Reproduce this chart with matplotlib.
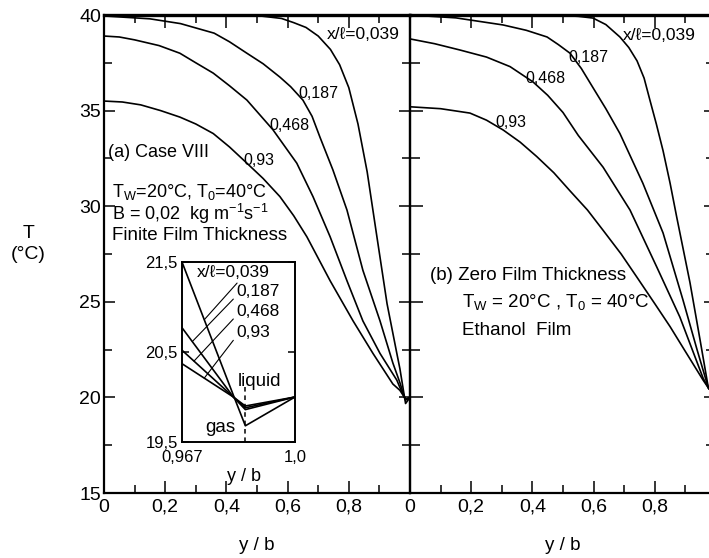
import numpy as np
import matplotlib.pyplot as plt
from matplotlib.ticker import MultipleLocator

plt.rcParams['font.family'] = ['Liberation Sans', 'DejaVu Sans']

# ---- (a) Case VIII, finite film thickness: y/b and T for each x/l ----
a_y_039 = [0, 0.3, 0.5, 0.58, 0.62, 0.66, 0.70, 0.74, 0.77, 0.80, 0.83, 0.86, 0.89, 0.925, 0.957,
           0.967, 0.982, 0.9855, 1.0]
a_T_039 = [40, 40, 39.97, 39.82, 39.6, 39.35, 38.9, 38.2, 37.4, 36.2, 34.3, 31.8, 28.6, 24.9, 22.3,
           21.5, 20.02, 19.68, 20.0]
a_y_187 = [0, 0.15, 0.25, 0.36, 0.41, 0.467, 0.52, 0.575, 0.61, 0.65, 0.68, 0.706, 0.748, 0.794,
           0.846, 0.902, 0.944, 0.967, 0.982, 0.9855, 1.0]
a_T_187 = [39.95, 39.8, 39.55, 39.05, 38.6, 38.0, 37.45, 36.75, 36.25, 35.55, 34.7, 33.6, 31.9, 29.8,
           26.65, 24.0, 21.8, 20.77, 20.0, 19.86, 20.0]
a_y_468 = [0, 0.05, 0.1, 0.18, 0.248, 0.3, 0.357, 0.41, 0.467, 0.552, 0.63, 0.683, 0.739, 0.794,
           0.846, 0.902, 0.957, 0.967, 0.982, 0.9855, 1.0]
a_T_468 = [38.9, 38.85, 38.7, 38.4, 38.0, 37.5, 36.96, 36.3, 35.55, 34.0, 32.25, 30.5, 28.4, 26.1,
           24.0, 22.3, 20.9, 20.52, 20.0, 19.88, 20.0]
a_y_93 = [0, 0.06, 0.12, 0.185, 0.248, 0.3, 0.357, 0.41, 0.467, 0.52, 0.575, 0.62, 0.663, 0.739,
          0.814, 0.879, 0.944, 0.967, 0.982, 0.9855, 1.0]
a_T_93 = [35.5, 35.45, 35.3, 35.0, 34.66, 34.3, 33.8, 33.1, 32.25, 31.45, 30.5, 29.5, 28.4, 26.1,
          24.0, 22.3, 20.7, 20.37, 20.0, 19.9, 20.0]

# ---- (b) zero film thickness ----
b_y_039 = [0, 0.3, 0.5, 0.55, 0.598, 0.64, 0.686, 0.715, 0.742, 0.765, 0.784, 0.805, 0.827, 0.85,
           0.872, 0.915, 0.948, 0.975, 1.0]
b_T_039 = [40, 40, 39.97, 39.93, 39.84, 39.5, 38.85, 38.3, 37.6, 36.7, 35.55, 34.3, 32.9, 31.2,
           29.4, 26.0, 23.0, 20.5, 20.0]
b_y_187 = [0, 0.15, 0.304, 0.38, 0.448, 0.485, 0.523, 0.56, 0.598, 0.64, 0.686, 0.761, 0.827, 0.892,
           0.938, 0.975, 1.0]
b_T_187 = [40, 39.85, 39.48, 39.2, 38.85, 38.45, 38.0, 37.2, 36.2, 35.1, 33.8, 31.2, 28.6, 25.1,
           22.5, 20.5, 20.0]
b_y_468 = [0, 0.08, 0.163, 0.25, 0.327, 0.402, 0.45, 0.5, 0.55, 0.631, 0.719, 0.807, 0.882, 0.958,
           0.975, 1.0]
b_T_468 = [38.75, 38.5, 38.17, 37.8, 37.3, 36.5, 35.8, 34.9, 33.7, 32.04, 29.8, 26.8, 24.2, 21.0,
           20.5, 20.0]
b_y_93 = [0, 0.1, 0.196, 0.25, 0.305, 0.36, 0.414, 0.47, 0.523, 0.58, 0.631, 0.69, 0.741, 0.8, 0.85,
          0.9, 0.958, 0.975, 1.0]
b_T_93 = [35.2, 35.1, 34.87, 34.5, 33.98, 33.35, 32.6, 31.75, 30.8, 29.8, 28.74, 27.5, 26.3, 24.9,
          23.7, 22.4, 20.9, 20.5, 20.0]

curve_labels = ['0,039', '0,187', '0,468', '0,93']
x_ticks = [0, 0.2, 0.4, 0.6, 0.8]
x_ticklabels = ['0', '0,2', '0,4', '0,6', '0,8']
interface_y = 0.9855

fig = plt.figure(figsize=(7.09, 5.58), dpi=100)
W, H = 709, 558
axa = fig.add_axes([104 / W, 65 / H, 306 / W, 478 / H])
axb = fig.add_axes([410 / W, 65 / H, 306 / W, 478 / H])
axb.patch.set_alpha(0)

lw = 1.2
curves_a = [(a_y_039, a_T_039), (a_y_187, a_T_187), (a_y_468, a_T_468), (a_y_93, a_T_93)]
curves_b = [(b_y_039, b_T_039), (b_y_187, b_T_187), (b_y_468, b_T_468), (b_y_93, b_T_93)]
for y, T in curves_a:
    axa.plot(y, T, 'k-', lw=lw)
for y, T in curves_b:
    axb.plot(y, T, 'k-', lw=lw)

for ax in (axa, axb):
    ax.set_xlim(0, 1)
    ax.set_ylim(15, 40)
    ax.set_xticks(x_ticks)
    ax.set_xticklabels(x_ticklabels)
    ax.xaxis.set_minor_locator(MultipleLocator(0.1))
    ax.yaxis.set_major_locator(MultipleLocator(5))
    ax.yaxis.set_minor_locator(MultipleLocator(2.5))
    ax.tick_params(axis='x', which='both', direction='in', top=True, bottom=True, width=1.1)
    ax.tick_params(axis='x', which='major', length=9, labelsize=14, pad=4)
    ax.tick_params(axis='x', which='minor', length=6)
    ax.tick_params(axis='y', which='both', direction='in', left=True, right=True, width=1.1)
    ax.spines['top'].set_linewidth(2.4)
    ax.spines['bottom'].set_linewidth(1.6)
    ax.spines['left'].set_linewidth(1.6)
    ax.spines['right'].set_linewidth(1.6)
    ax.set_xlabel('y / b', fontsize=13.5)
    ax.xaxis.set_label_coords(0.5, -0.092)

axa.tick_params(axis='y', which='major', length=8, labelsize=14, pad=2)
axa.tick_params(axis='y', which='minor', length=6)
axb.tick_params(axis='y', which='major', length=9, labelleft=False)
axb.tick_params(axis='y', which='minor', length=7)

axa.set_ylabel('T\n(°C)', fontsize=14, rotation=0, va='center', ha='center', linespacing=1.3)
axa.yaxis.set_label_coords(-0.248, 0.52)

# curve labels
fs_lab = 11.5
axa.text(0.729, 39.0, 'x/ℓ=' + curve_labels[0], fontsize=12.5, ha='left', va='center')
axa.text(0.634, 35.9, curve_labels[1], fontsize=fs_lab, ha='left', va='center')
axa.text(0.542, 34.2, curve_labels[2], fontsize=fs_lab, ha='left', va='center')
axa.text(0.454, 32.4, curve_labels[3], fontsize=fs_lab, ha='left', va='center')

axb.text(0.696, 38.95, 'x/ℓ=' + curve_labels[0], fontsize=12.5, ha='left', va='center')
axb.text(0.516, 37.8, curve_labels[1], fontsize=fs_lab, ha='left', va='center')
axb.text(0.376, 36.7, curve_labels[2], fontsize=fs_lab, ha='left', va='center')
axb.text(0.278, 34.4, curve_labels[3], fontsize=fs_lab, ha='left', va='center')

# panel notes
fs_txt = 13
axa.text(0.013, 32.8, '(a) Case VIII', fontsize=fs_txt, ha='left', va='center')
axa.text(0.026, 30.73, r'T$_\mathregular{W}$=20°C, T$_\mathregular{0}$=40°C', fontsize=fs_txt, ha='left', va='center')
axa.text(0.026, 29.6, r'B = 0,02  kg m$^\mathregular{-1}$s$^\mathregular{-1}$', fontsize=fs_txt, ha='left', va='center')
axa.text(0.026, 28.45, 'Finite Film Thickness', fontsize=13.5, ha='left', va='center')

axb.text(0.065, 26.4, '(b) Zero Film Thickness', fontsize=13.5, ha='left', va='center')
axb.text(0.17, 24.92, r'T$_\mathregular{W}$ = 20°C , T$_\mathregular{0}$ = 40°C', fontsize=13.5, ha='left', va='center')
axb.text(0.17, 23.5, 'Ethanol  Film', fontsize=13.5, ha='left', va='center')

# ---- inset near the wall ----
axi = fig.add_axes([182 / W, 116 / H, 113 / W, 180 / H])
for y, T in curves_a:
    axi.plot(y, T, 'k-', lw=lw)
axi.set_xlim(0.967, 1.0)
axi.set_ylim(19.5, 21.5)
axi.set_xticks([0.967, 1.0])
axi.set_xticklabels(['0,967', '1,0'])
axi.set_yticks([19.5, 20.5, 21.5])
axi.set_yticklabels(['19,5', '20,5', '21,5'])
axi.tick_params(axis='x', length=0, labelsize=12, pad=6)
axi.tick_params(axis='y', direction='in', left=True, right=True, length=5, width=1.1, labelsize=12, pad=3)
for s in axi.spines.values():
    s.set_linewidth(1.4)
axi.set_xlabel('y / b', fontsize=13)
axi.xaxis.set_label_coords(0.55, -0.145)
axi.vlines(interface_y, 19.5, 20.15, colors='k', lw=1.1, linestyles=(0, (3, 2.5)))

leader_x = [0.9735, 0.9700, 0.9705, 0.9735]
label_pos = [(0.9714, 21.38), (0.9828, 21.17), (0.9828, 20.95), (0.9828, 20.72)]
for i, ((y, T), lx, (tx, ty)) in enumerate(zip(curves_a, leader_x, label_pos)):
    txt = ('x/ℓ=' if i == 0 else '') + curve_labels[i]
    axi.annotate(txt, xy=(lx, np.interp(lx, y, T)), xytext=(tx, ty),
                 fontsize=12.5, ha='left', va='center',
                 arrowprops=dict(arrowstyle='-', lw=0.8, color='k',
                                 relpos=(0.62 if i == 0 else 0.0, 0.2), shrinkA=0, shrinkB=0))
axi.text(0.9832, 20.17, 'liquid', fontsize=13.5, ha='left', va='center')
axi.text(0.9737, 19.66, 'gas', fontsize=13.5, ha='left', va='center')

fig.savefig('out.png', dpi=100)
